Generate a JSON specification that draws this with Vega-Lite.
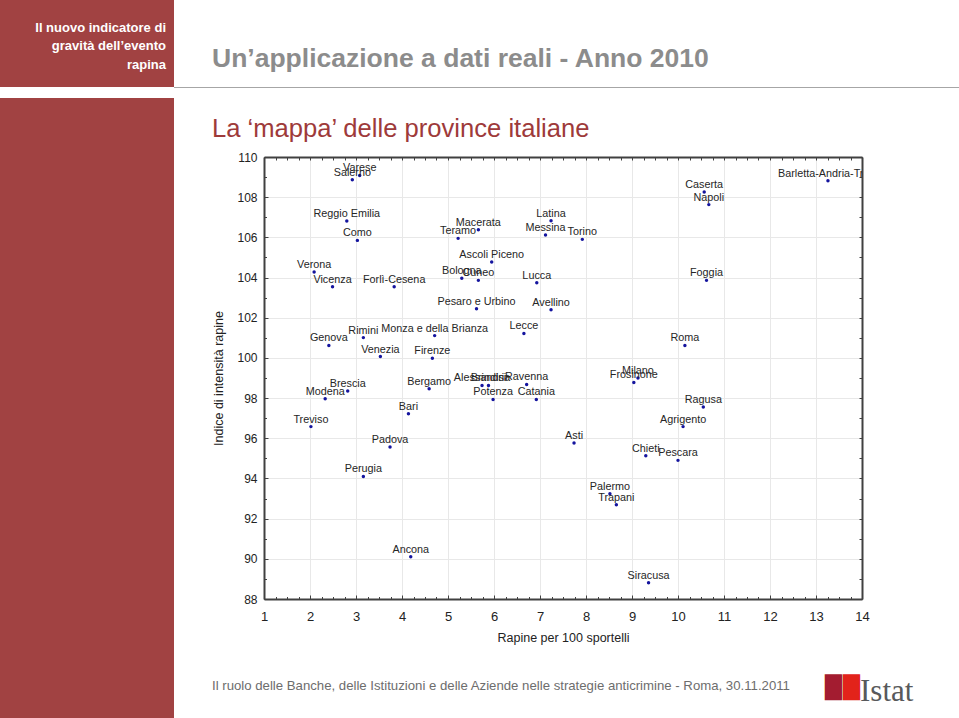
{
  "$schema": "https://vega.github.io/schema/vega-lite/v6.json",
  "background": "white",
  "padding": 0,
  "columns": 3,
  "spacing": 0,
  "bounds": "flush",
  "config": {
    "font": "Liberation Sans",
    "view": {"stroke": null},
    "axis": {"labelFont": "Liberation Sans", "titleFont": "Liberation Sans"}
  },
  "datasets": {
    "province": [
      {"provincia": "Varese", "rapine": 3.08, "indice": 109.08},
      {"provincia": "Salerno", "rapine": 2.92, "indice": 108.87},
      {"provincia": "Reggio Emilia", "rapine": 2.80, "indice": 106.81},
      {"provincia": "Como", "rapine": 3.03, "indice": 105.85},
      {"provincia": "Verona", "rapine": 2.09, "indice": 104.28},
      {"provincia": "Vicenza", "rapine": 2.49, "indice": 103.54},
      {"provincia": "Forlì-Cesena", "rapine": 3.83, "indice": 103.54},
      {"provincia": "Macerata", "rapine": 5.66, "indice": 106.38},
      {"provincia": "Teramo", "rapine": 5.22, "indice": 105.95},
      {"provincia": "Ascoli Piceno", "rapine": 5.95, "indice": 104.77},
      {"provincia": "Bologna", "rapine": 5.30, "indice": 103.96},
      {"provincia": "Cuneo", "rapine": 5.66, "indice": 103.86},
      {"provincia": "Lucca", "rapine": 6.93, "indice": 103.74},
      {"provincia": "Latina", "rapine": 7.24, "indice": 106.83},
      {"provincia": "Messina", "rapine": 7.12, "indice": 106.12},
      {"provincia": "Torino", "rapine": 7.92, "indice": 105.90},
      {"provincia": "Caserta", "rapine": 10.57, "indice": 108.26},
      {"provincia": "Napoli", "rapine": 10.67, "indice": 107.63},
      {"provincia": "Foggia", "rapine": 10.62, "indice": 103.86},
      {"provincia": "Barletta-Andria-Trani", "rapine": 13.26, "indice": 108.82},
      {"provincia": "Pesaro e Urbino", "rapine": 5.62, "indice": 102.45},
      {"provincia": "Avellino", "rapine": 7.24, "indice": 102.40},
      {"provincia": "Rimini", "rapine": 3.16, "indice": 101.01},
      {"provincia": "Monza e della Brianza", "rapine": 4.71, "indice": 101.11},
      {"provincia": "Lecce", "rapine": 6.65, "indice": 101.22},
      {"provincia": "Genova", "rapine": 2.41, "indice": 100.62},
      {"provincia": "Venezia", "rapine": 3.53, "indice": 100.07},
      {"provincia": "Firenze", "rapine": 4.66, "indice": 99.98},
      {"provincia": "Bergamo", "rapine": 4.59, "indice": 98.47},
      {"provincia": "Alessandria", "rapine": 5.74, "indice": 98.63},
      {"provincia": "Brindisi", "rapine": 5.88, "indice": 98.63},
      {"provincia": "Ravenna", "rapine": 6.71, "indice": 98.68},
      {"provincia": "Potenza", "rapine": 5.98, "indice": 97.93},
      {"provincia": "Catania", "rapine": 6.92, "indice": 97.93},
      {"provincia": "Brescia", "rapine": 2.82, "indice": 98.35},
      {"provincia": "Modena", "rapine": 2.33, "indice": 97.97},
      {"provincia": "Bari", "rapine": 4.14, "indice": 97.22},
      {"provincia": "Treviso", "rapine": 2.02, "indice": 96.58},
      {"provincia": "Padova", "rapine": 3.74, "indice": 95.57},
      {"provincia": "Roma", "rapine": 10.15, "indice": 100.62},
      {"provincia": "Milano", "rapine": 9.13, "indice": 99.00},
      {"provincia": "Frosinone", "rapine": 9.04, "indice": 98.78},
      {"provincia": "Ragusa", "rapine": 10.55, "indice": 97.56},
      {"provincia": "Agrigento", "rapine": 10.11, "indice": 96.58},
      {"provincia": "Asti", "rapine": 7.74, "indice": 95.76},
      {"provincia": "Chieti", "rapine": 9.30, "indice": 95.13},
      {"provincia": "Pescara", "rapine": 10.00, "indice": 94.90},
      {"provincia": "Perugia", "rapine": 3.16, "indice": 94.10},
      {"provincia": "Ancona", "rapine": 4.19, "indice": 90.10},
      {"provincia": "Palermo", "rapine": 8.52, "indice": 93.24},
      {"provincia": "Trapani", "rapine": 8.66, "indice": 92.69},
      {"provincia": "Siracusa", "rapine": 9.36, "indice": 88.81}
    ]
  },
  "concat": [
    {
      "width": 174, "height": 87,
      "view": {"fill": "#a14242", "stroke": null},
      "data": {"values": []}, "mark": "point",
      "title": {"text": ["Il nuovo indicatore di", "gravità dell’evento", "rapina"], "orient": "bottom", "anchor": "end", "frame": "group", "offset": -65.3, "dx": -8, "baseline": "top", "color": "#ffffff", "font": "Liberation Sans", "fontSize": 13, "fontWeight": "bold", "lineHeight": 18.5}
    },
    {
      "width": 90, "height": 87, "data": {"values": []}, "mark": "point",
      "title": {"text": "Istat", "orient": "bottom", "anchor": "start", "frame": "group", "offset": 589.5, "dx": 686, "baseline": "top", "color": "#58595b", "font": "Liberation Serif", "fontSize": 31, "fontWeight": "normal"}
    },
    {
      "width": 695, "height": 87,
      "data": {"values": []}, "mark": "point",
      "title": {"text": "Un’applicazione a dati reali - Anno 2010", "orient": "bottom", "anchor": "start", "frame": "group", "offset": -41.5, "dx": -52, "baseline": "top", "color": "#8c8c8c", "font": "Liberation Sans", "fontSize": 26.5, "fontWeight": "bold"}
    },
    {"width": 174, "height": 11, "data": {"values": []}, "mark": "point"},
    {"width": 90, "height": 1, "view": {"fill": "#a6a6a6", "stroke": null}, "data": {"values": []}, "mark": "point"},
    {"width": 695, "height": 1, "view": {"fill": "#a6a6a6", "stroke": null}, "data": {"values": []}, "mark": "point"},
    {
      "width": 174, "height": 59,
      "view": {"fill": "#a14242", "stroke": null},
      "data": {"values": []}, "mark": "point",
      "title": {"text": "█", "orient": "bottom", "anchor": "start", "frame": "group", "offset": 521, "dx": 843, "baseline": "top", "color": "#e2231a", "font": "DejaVu Sans", "fontSize": 22, "fontWeight": "normal"}
    },
    {"width": 90, "height": 59, "data": {"values": []}, "mark": "point"},
    {
      "width": 695, "height": 59,
      "data": {"values": []}, "mark": "point",
      "title": {"text": "La ‘mappa’ delle province italiane", "orient": "bottom", "anchor": "start", "frame": "group", "offset": -40.5, "dx": -52, "baseline": "top", "color": "#9e3a3a", "font": "Liberation Sans", "fontSize": 25.6, "fontWeight": "normal"}
    },
    {
      "width": 174, "height": 561,
      "view": {"fill": "#a14242", "stroke": null},
      "data": {"values": []}, "mark": "point",
      "title": {"text": "█", "orient": "bottom", "anchor": "start", "frame": "group", "offset": -40, "dx": 825, "baseline": "top", "color": "#a31c30", "font": "DejaVu Sans", "fontSize": 22, "fontWeight": "normal"}
    },
    {
      "width": 90, "height": 561,
      "data": {"values": []}, "mark": "point",
      "title": {"text": "Il ruolo delle Banche, delle Istituzioni e delle Aziende nelle strategie anticrimine - Roma, 30.11.2011", "orient": "bottom", "anchor": "start", "frame": "group", "offset": -38, "dx": 38, "baseline": "top", "color": "#6d6d6d", "font": "Liberation Sans", "fontSize": 13.2, "fontWeight": "normal"}
    },
    {
      "width": 598, "height": 442,
      "data": {"name": "province"},
      "resolve": {"axis": {"x": "independent", "y": "independent"}},
      "layer": [
        {
          "mark": {"type": "circle", "size": 12, "color": "#14149e", "opacity": 1},
          "encoding": {
            "x": {
              "field": "rapine", "type": "quantitative",
              "scale": {"domain": [1, 14], "nice": false, "zero": false},
              "axis": {"orient": "bottom", "values": [1, 2, 3, 4, 5, 6, 7, 8, 9, 10, 11, 12, 13, 14], "tickSize": -4, "tickColor": "#404040", "tickWidth": 1, "labelPadding": 15.4, "labelFontSize": 13, "labelColor": "#222222", "labelFlush": false, "labelOverlap": false, "domain": true, "domainColor": "#404040", "domainWidth": 2, "grid": true, "gridColor": "#e8e8e8", "gridWidth": 1, "title": "Rapine per 100 sportelli", "titleFontSize": 12.5, "titleFontWeight": "normal", "titleColor": "#222222", "titlePadding": 8}
            },
            "y": {
              "field": "indice", "type": "quantitative",
              "scale": {"domain": [88, 110], "nice": false, "zero": false},
              "axis": {"orient": "left", "values": [88, 90, 92, 94, 96, 98, 100, 102, 104, 106, 108, 110], "tickSize": -4, "tickColor": "#404040", "tickWidth": 1, "labelPadding": 11, "labelFontSize": 12, "labelColor": "#222222", "labelFlush": false, "labelOverlap": false, "domain": true, "domainColor": "#404040", "domainWidth": 2, "grid": true, "gridColor": "#e8e8e8", "gridWidth": 1, "title": "Indice di intensità rapine", "titleFontSize": 12.5, "titleFontWeight": "normal", "titleColor": "#222222", "titlePadding": 11}
            }
          }
        },
        {
          "mark": {"type": "text", "baseline": "alphabetic", "align": "center", "dy": -4, "fontSize": 10.8, "color": "#262626", "clip": true},
          "encoding": {
            "x": {
              "field": "rapine", "type": "quantitative",
              "scale": {"domain": [1, 14], "nice": false, "zero": false},
              "axis": {"orient": "bottom", "values": [1.25, 1.5, 1.75, 2.25, 2.5, 2.75, 3.25, 3.5, 3.75, 4.25, 4.5, 4.75, 5.25, 5.5, 5.75, 6.25, 6.5, 6.75, 7.25, 7.5, 7.75, 8.25, 8.5, 8.75, 9.25, 9.5, 9.75, 10.25, 10.5, 10.75, 11.25, 11.5, 11.75, 12.25, 12.5, 12.75, 13.25, 13.5, 13.75], "tickSize": -2.5, "tickColor": "#404040", "tickWidth": 1, "labels": false, "domain": false, "grid": false, "title": null}
            },
            "y": {
              "field": "indice", "type": "quantitative",
              "scale": {"domain": [88, 110], "nice": false, "zero": false},
              "axis": {"orient": "left", "values": [89, 91, 93, 95, 97, 99, 101, 103, 105, 107, 109], "tickSize": -2.5, "tickColor": "#404040", "tickWidth": 1, "labels": false, "domain": false, "grid": false, "title": null}
            },
            "text": {"field": "provincia", "type": "nominal"}
          }
        },
        {
          "data": {"values": []},
          "mark": "point",
          "encoding": {
            "x": {
              "field": "rapine", "type": "quantitative",
              "scale": {"domain": [1, 14], "nice": false, "zero": false},
              "axis": {"orient": "top", "values": [1, 1.25, 1.5, 1.75, 2, 2.25, 2.5, 2.75, 3, 3.25, 3.5, 3.75, 4, 4.25, 4.5, 4.75, 5, 5.25, 5.5, 5.75, 6, 6.25, 6.5, 6.75, 7, 7.25, 7.5, 7.75, 8, 8.25, 8.5, 8.75, 9, 9.25, 9.5, 9.75, 10, 10.25, 10.5, 10.75, 11, 11.25, 11.5, 11.75, 12, 12.25, 12.5, 12.75, 13, 13.25, 13.5, 13.75, 14], "tickSize": -3, "tickColor": "#404040", "tickWidth": 1, "labels": false, "domain": true, "domainColor": "#404040", "domainWidth": 2, "grid": false, "title": null}
            },
            "y": {
              "field": "indice", "type": "quantitative",
              "scale": {"domain": [88, 110], "nice": false, "zero": false},
              "axis": {"orient": "right", "values": [88, 89, 90, 91, 92, 93, 94, 95, 96, 97, 98, 99, 100, 101, 102, 103, 104, 105, 106, 107, 108, 109, 110], "tickSize": -3, "tickColor": "#404040", "tickWidth": 1, "labels": false, "domain": true, "domainColor": "#404040", "domainWidth": 2, "grid": false, "title": null}
            }
          }
        }
      ]
    }
  ]
}
